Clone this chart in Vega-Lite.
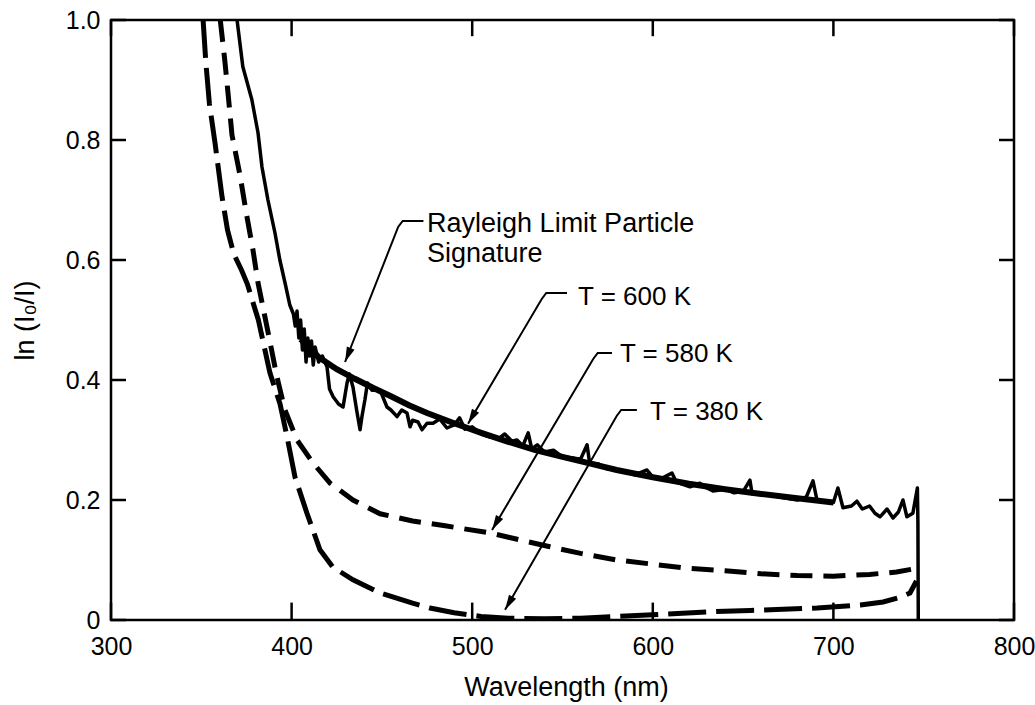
{
  "$schema": "https://vega.github.io/schema/vega-lite/v6.json",
  "width": 903,
  "height": 600,
  "autosize": "none",
  "padding": {"left": 111, "top": 20, "right": 21, "bottom": 85},
  "config": {
    "view": {"stroke": "black", "strokeWidth": 2.5},
    "font": "Liberation Sans",
    "axis": {
      "domain": false, "grid": false, "ticks": false,
      "labelFont": "Liberation Sans", "labelFontSize": 25, "labelColor": "black",
      "titleFont": "Liberation Sans", "titleFontSize": 27, "titleFontWeight": "normal", "titleColor": "black"
    }
  },
  "datasets": {
    "xticks": [{"wl": 300}, {"wl": 400}, {"wl": 500}, {"wl": 600}, {"wl": 700}, {"wl": 800}],
    "yticks": [{"v": 0}, {"v": 0.2}, {"v": 0.4}, {"v": 0.6}, {"v": 0.8}, {"v": 1.0}],
    "curves": [
      {"s": "T = 380 K", "wl": 351, "v": 1.0},
      {"s": "T = 380 K", "wl": 352.5, "v": 0.93},
      {"s": "T = 380 K", "wl": 354.5, "v": 0.86},
      {"s": "T = 380 K", "wl": 357.6, "v": 0.795},
      {"s": "T = 380 K", "wl": 361.5, "v": 0.705},
      {"s": "T = 380 K", "wl": 364.5, "v": 0.65},
      {"s": "T = 380 K", "wl": 368, "v": 0.61},
      {"s": "T = 380 K", "wl": 372.3, "v": 0.583},
      {"s": "T = 380 K", "wl": 375.5, "v": 0.56},
      {"s": "T = 380 K", "wl": 381.6, "v": 0.5},
      {"s": "T = 380 K", "wl": 388, "v": 0.412},
      {"s": "T = 380 K", "wl": 393.6, "v": 0.36},
      {"s": "T = 380 K", "wl": 397.5, "v": 0.305},
      {"s": "T = 380 K", "wl": 401.9, "v": 0.238},
      {"s": "T = 380 K", "wl": 408.5, "v": 0.178},
      {"s": "T = 380 K", "wl": 415.7, "v": 0.117},
      {"s": "T = 380 K", "wl": 422.9, "v": 0.088},
      {"s": "T = 380 K", "wl": 434, "v": 0.067},
      {"s": "T = 380 K", "wl": 449, "v": 0.045},
      {"s": "T = 380 K", "wl": 467, "v": 0.028},
      {"s": "T = 380 K", "wl": 476.6, "v": 0.02},
      {"s": "T = 380 K", "wl": 490, "v": 0.012},
      {"s": "T = 380 K", "wl": 505, "v": 0.006},
      {"s": "T = 380 K", "wl": 520, "v": 0.003},
      {"s": "T = 380 K", "wl": 540, "v": 0.002},
      {"s": "T = 380 K", "wl": 560, "v": 0.003},
      {"s": "T = 380 K", "wl": 580, "v": 0.006},
      {"s": "T = 380 K", "wl": 608, "v": 0.01},
      {"s": "T = 380 K", "wl": 635, "v": 0.014},
      {"s": "T = 380 K", "wl": 654, "v": 0.016},
      {"s": "T = 380 K", "wl": 691, "v": 0.02},
      {"s": "T = 380 K", "wl": 715, "v": 0.025},
      {"s": "T = 380 K", "wl": 727.5, "v": 0.03},
      {"s": "T = 380 K", "wl": 737, "v": 0.038},
      {"s": "T = 380 K", "wl": 742.4, "v": 0.045},
      {"s": "T = 380 K", "wl": 746, "v": 0.065},

      {"s": "T = 580 K", "wl": 360.5, "v": 1.0},
      {"s": "T = 580 K", "wl": 363, "v": 0.933},
      {"s": "T = 580 K", "wl": 364.8, "v": 0.878},
      {"s": "T = 580 K", "wl": 367, "v": 0.808},
      {"s": "T = 580 K", "wl": 371.4, "v": 0.742},
      {"s": "T = 580 K", "wl": 374.8, "v": 0.68},
      {"s": "T = 580 K", "wl": 378.6, "v": 0.617},
      {"s": "T = 580 K", "wl": 381.4, "v": 0.562},
      {"s": "T = 580 K", "wl": 386.4, "v": 0.488},
      {"s": "T = 580 K", "wl": 391.9, "v": 0.405},
      {"s": "T = 580 K", "wl": 396.3, "v": 0.35},
      {"s": "T = 580 K", "wl": 403, "v": 0.3},
      {"s": "T = 580 K", "wl": 411.8, "v": 0.262},
      {"s": "T = 580 K", "wl": 421.3, "v": 0.228},
      {"s": "T = 580 K", "wl": 434, "v": 0.2},
      {"s": "T = 580 K", "wl": 449, "v": 0.177},
      {"s": "T = 580 K", "wl": 467, "v": 0.165},
      {"s": "T = 580 K", "wl": 485, "v": 0.157},
      {"s": "T = 580 K", "wl": 510, "v": 0.145},
      {"s": "T = 580 K", "wl": 530, "v": 0.131},
      {"s": "T = 580 K", "wl": 543, "v": 0.122},
      {"s": "T = 580 K", "wl": 560, "v": 0.111},
      {"s": "T = 580 K", "wl": 580, "v": 0.1},
      {"s": "T = 580 K", "wl": 600, "v": 0.093},
      {"s": "T = 580 K", "wl": 617, "v": 0.087},
      {"s": "T = 580 K", "wl": 640, "v": 0.082},
      {"s": "T = 580 K", "wl": 660, "v": 0.077},
      {"s": "T = 580 K", "wl": 680, "v": 0.074},
      {"s": "T = 580 K", "wl": 700, "v": 0.073},
      {"s": "T = 580 K", "wl": 720, "v": 0.076},
      {"s": "T = 580 K", "wl": 735, "v": 0.08},
      {"s": "T = 580 K", "wl": 746, "v": 0.086},

      {"s": "Rayleigh", "wl": 405, "v": 0.468},
      {"s": "Rayleigh", "wl": 415, "v": 0.438},
      {"s": "Rayleigh", "wl": 425, "v": 0.418},
      {"s": "Rayleigh", "wl": 435, "v": 0.402},
      {"s": "Rayleigh", "wl": 445, "v": 0.387},
      {"s": "Rayleigh", "wl": 455, "v": 0.373},
      {"s": "Rayleigh", "wl": 465, "v": 0.358},
      {"s": "Rayleigh", "wl": 475, "v": 0.345},
      {"s": "Rayleigh", "wl": 490, "v": 0.328},
      {"s": "Rayleigh", "wl": 505, "v": 0.312},
      {"s": "Rayleigh", "wl": 520, "v": 0.297},
      {"s": "Rayleigh", "wl": 535, "v": 0.283},
      {"s": "Rayleigh", "wl": 550, "v": 0.272},
      {"s": "Rayleigh", "wl": 565, "v": 0.261},
      {"s": "Rayleigh", "wl": 580, "v": 0.25},
      {"s": "Rayleigh", "wl": 600, "v": 0.238},
      {"s": "Rayleigh", "wl": 620, "v": 0.227},
      {"s": "Rayleigh", "wl": 640, "v": 0.218},
      {"s": "Rayleigh", "wl": 660, "v": 0.21},
      {"s": "Rayleigh", "wl": 680, "v": 0.203},
      {"s": "Rayleigh", "wl": 700, "v": 0.196},

      {"s": "T = 600 K", "wl": 369.8, "v": 1.0},
      {"s": "T = 600 K", "wl": 373, "v": 0.922},
      {"s": "T = 600 K", "wl": 378, "v": 0.867},
      {"s": "T = 600 K", "wl": 381.4, "v": 0.812},
      {"s": "T = 600 K", "wl": 383.6, "v": 0.755},
      {"s": "T = 600 K", "wl": 386.9, "v": 0.7},
      {"s": "T = 600 K", "wl": 390.8, "v": 0.645},
      {"s": "T = 600 K", "wl": 393.5, "v": 0.6},
      {"s": "T = 600 K", "wl": 396.5, "v": 0.56},
      {"s": "T = 600 K", "wl": 399, "v": 0.525},
      {"s": "T = 600 K", "wl": 401, "v": 0.51},
      {"s": "T = 600 K", "wl": 402, "v": 0.49},
      {"s": "T = 600 K", "wl": 403, "v": 0.515},
      {"s": "T = 600 K", "wl": 404, "v": 0.47},
      {"s": "T = 600 K", "wl": 405, "v": 0.5},
      {"s": "T = 600 K", "wl": 406, "v": 0.45},
      {"s": "T = 600 K", "wl": 407, "v": 0.485},
      {"s": "T = 600 K", "wl": 408, "v": 0.43},
      {"s": "T = 600 K", "wl": 409, "v": 0.47},
      {"s": "T = 600 K", "wl": 410, "v": 0.44},
      {"s": "T = 600 K", "wl": 411, "v": 0.465},
      {"s": "T = 600 K", "wl": 412, "v": 0.425},
      {"s": "T = 600 K", "wl": 413, "v": 0.455},
      {"s": "T = 600 K", "wl": 415, "v": 0.43},
      {"s": "T = 600 K", "wl": 417, "v": 0.44},
      {"s": "T = 600 K", "wl": 419.6, "v": 0.422},
      {"s": "T = 600 K", "wl": 421, "v": 0.385},
      {"s": "T = 600 K", "wl": 423, "v": 0.372},
      {"s": "T = 600 K", "wl": 426, "v": 0.36},
      {"s": "T = 600 K", "wl": 428.5, "v": 0.355},
      {"s": "T = 600 K", "wl": 430.7, "v": 0.395},
      {"s": "T = 600 K", "wl": 432, "v": 0.41},
      {"s": "T = 600 K", "wl": 434, "v": 0.388},
      {"s": "T = 600 K", "wl": 436, "v": 0.35},
      {"s": "T = 600 K", "wl": 437.9, "v": 0.317},
      {"s": "T = 600 K", "wl": 439, "v": 0.34},
      {"s": "T = 600 K", "wl": 440.6, "v": 0.367},
      {"s": "T = 600 K", "wl": 442, "v": 0.395},
      {"s": "T = 600 K", "wl": 444.5, "v": 0.383},
      {"s": "T = 600 K", "wl": 449, "v": 0.383},
      {"s": "T = 600 K", "wl": 452.8, "v": 0.355},
      {"s": "T = 600 K", "wl": 455, "v": 0.35},
      {"s": "T = 600 K", "wl": 458.4, "v": 0.339},
      {"s": "T = 600 K", "wl": 461, "v": 0.35},
      {"s": "T = 600 K", "wl": 463.9, "v": 0.345},
      {"s": "T = 600 K", "wl": 465.6, "v": 0.322},
      {"s": "T = 600 K", "wl": 467, "v": 0.333},
      {"s": "T = 600 K", "wl": 470, "v": 0.33},
      {"s": "T = 600 K", "wl": 472.2, "v": 0.317},
      {"s": "T = 600 K", "wl": 475, "v": 0.328},
      {"s": "T = 600 K", "wl": 478.3, "v": 0.328},
      {"s": "T = 600 K", "wl": 482, "v": 0.335},
      {"s": "T = 600 K", "wl": 486, "v": 0.32},
      {"s": "T = 600 K", "wl": 490, "v": 0.325},
      {"s": "T = 600 K", "wl": 493, "v": 0.337},
      {"s": "T = 600 K", "wl": 496, "v": 0.318},
      {"s": "T = 600 K", "wl": 500, "v": 0.322},
      {"s": "T = 600 K", "wl": 505, "v": 0.31},
      {"s": "T = 600 K", "wl": 510, "v": 0.305},
      {"s": "T = 600 K", "wl": 515, "v": 0.303},
      {"s": "T = 600 K", "wl": 518, "v": 0.31},
      {"s": "T = 600 K", "wl": 522, "v": 0.298},
      {"s": "T = 600 K", "wl": 524.8, "v": 0.3},
      {"s": "T = 600 K", "wl": 528, "v": 0.29},
      {"s": "T = 600 K", "wl": 531, "v": 0.312},
      {"s": "T = 600 K", "wl": 533, "v": 0.285},
      {"s": "T = 600 K", "wl": 536, "v": 0.292},
      {"s": "T = 600 K", "wl": 540, "v": 0.28},
      {"s": "T = 600 K", "wl": 545, "v": 0.283},
      {"s": "T = 600 K", "wl": 550, "v": 0.272},
      {"s": "T = 600 K", "wl": 555.8, "v": 0.27},
      {"s": "T = 600 K", "wl": 560, "v": 0.268},
      {"s": "T = 600 K", "wl": 563.6, "v": 0.292},
      {"s": "T = 600 K", "wl": 565, "v": 0.262},
      {"s": "T = 600 K", "wl": 570, "v": 0.26},
      {"s": "T = 600 K", "wl": 574.6, "v": 0.252},
      {"s": "T = 600 K", "wl": 580, "v": 0.25},
      {"s": "T = 600 K", "wl": 585, "v": 0.248},
      {"s": "T = 600 K", "wl": 590, "v": 0.242},
      {"s": "T = 600 K", "wl": 596.8, "v": 0.25},
      {"s": "T = 600 K", "wl": 600, "v": 0.238},
      {"s": "T = 600 K", "wl": 605, "v": 0.236},
      {"s": "T = 600 K", "wl": 610.6, "v": 0.245},
      {"s": "T = 600 K", "wl": 613, "v": 0.23},
      {"s": "T = 600 K", "wl": 620.6, "v": 0.222},
      {"s": "T = 600 K", "wl": 626, "v": 0.228},
      {"s": "T = 600 K", "wl": 630, "v": 0.22},
      {"s": "T = 600 K", "wl": 633.3, "v": 0.215},
      {"s": "T = 600 K", "wl": 640, "v": 0.218},
      {"s": "T = 600 K", "wl": 645, "v": 0.212},
      {"s": "T = 600 K", "wl": 650, "v": 0.214},
      {"s": "T = 600 K", "wl": 653.8, "v": 0.233},
      {"s": "T = 600 K", "wl": 655, "v": 0.21},
      {"s": "T = 600 K", "wl": 663, "v": 0.21},
      {"s": "T = 600 K", "wl": 670, "v": 0.205},
      {"s": "T = 600 K", "wl": 680, "v": 0.2},
      {"s": "T = 600 K", "wl": 685, "v": 0.205},
      {"s": "T = 600 K", "wl": 688.7, "v": 0.232},
      {"s": "T = 600 K", "wl": 690.9, "v": 0.2},
      {"s": "T = 600 K", "wl": 695, "v": 0.198},
      {"s": "T = 600 K", "wl": 700, "v": 0.196},
      {"s": "T = 600 K", "wl": 702.5, "v": 0.22},
      {"s": "T = 600 K", "wl": 705.3, "v": 0.187},
      {"s": "T = 600 K", "wl": 710, "v": 0.19},
      {"s": "T = 600 K", "wl": 713, "v": 0.198},
      {"s": "T = 600 K", "wl": 716, "v": 0.185},
      {"s": "T = 600 K", "wl": 720, "v": 0.19},
      {"s": "T = 600 K", "wl": 723, "v": 0.178},
      {"s": "T = 600 K", "wl": 725.8, "v": 0.172},
      {"s": "T = 600 K", "wl": 729.7, "v": 0.185},
      {"s": "T = 600 K", "wl": 733, "v": 0.17},
      {"s": "T = 600 K", "wl": 736, "v": 0.18},
      {"s": "T = 600 K", "wl": 738.5, "v": 0.2},
      {"s": "T = 600 K", "wl": 740.7, "v": 0.172},
      {"s": "T = 600 K", "wl": 744, "v": 0.178},
      {"s": "T = 600 K", "wl": 746.5, "v": 0.22},
      {"s": "T = 600 K", "wl": 746.8, "v": 0.162},
      {"s": "T = 600 K", "wl": 747, "v": 0.0}
    ],
    "leaders": [
      {"s": "Rayleigh", "wl": 473, "v": 0.665},
      {"s": "Rayleigh", "wl": 461.5, "v": 0.665},
      {"s": "Rayleigh", "wl": 459, "v": 0.655},
      {"s": "Rayleigh", "wl": 429.6, "v": 0.43},
      {"s": "T = 600 K", "wl": 552.5, "v": 0.545},
      {"s": "T = 600 K", "wl": 541, "v": 0.545},
      {"s": "T = 600 K", "wl": 538.5, "v": 0.535},
      {"s": "T = 600 K", "wl": 497.7, "v": 0.327},
      {"s": "T = 580 K", "wl": 577.4, "v": 0.445},
      {"s": "T = 580 K", "wl": 569.5, "v": 0.445},
      {"s": "T = 580 K", "wl": 567, "v": 0.435},
      {"s": "T = 580 K", "wl": 511, "v": 0.15},
      {"s": "T = 380 K", "wl": 591.2, "v": 0.35},
      {"s": "T = 380 K", "wl": 582.5, "v": 0.35},
      {"s": "T = 380 K", "wl": 580, "v": 0.34},
      {"s": "T = 380 K", "wl": 518.2, "v": 0.017}
    ],
    "tips": [
      {"s": "Rayleigh", "wl": 429.6, "v": 0.43},
      {"s": "T = 600 K", "wl": 497.7, "v": 0.327},
      {"s": "T = 580 K", "wl": 511, "v": 0.15},
      {"s": "T = 380 K", "wl": 518.2, "v": 0.017}
    ],
    "labels": [
      {"t": "Rayleigh Limit Particle\nSignature", "wl": 475, "v": 0.647, "k": "big"},
      {"t": "T = 600 K", "wl": 558.6, "v": 0.525, "k": "t"},
      {"t": "T = 580 K", "wl": 581.8, "v": 0.43, "k": "t"},
      {"t": "T = 380 K", "wl": 598.5, "v": 0.333, "k": "t"}
    ]
  },
  "layer": [
    {
      "data": {"name": "curves"},
      "transform": [{"filter": "datum.s == 'T = 380 K'"}],
      "mark": {"type": "line", "color": "black", "strokeWidth": 5, "strokeDash": [38, 10], "clip": true},
      "encoding": {
        "x": {"field": "wl", "type": "quantitative", "scale": {"domain": [300, 800], "nice": false, "zero": false},
          "axis": {"orient": "bottom", "values": [300, 400, 500, 600, 700, 800], "labelPadding": 34, "labelBaseline": "alphabetic", "labelFlush": false,
            "title": "Wavelength (nm)", "titleX": 455, "titleY": 75, "titleBaseline": "alphabetic", "titleAlign": "center"}},
        "y": {"field": "v", "type": "quantitative", "scale": {"domain": [0, 1], "nice": false, "zero": false},
          "axis": {"orient": "left", "values": [0, 0.2, 0.4, 0.6, 0.8, 1], "labelPadding": 11, "labelFlush": false,
            "labelExpr": "datum.value == 0 ? '0' : format(datum.value, '.1f')",
            "title": "ln (I₀/I)", "titleX": -86, "titleY": 300, "titleAngle": -90, "titleBaseline": "middle", "titleAlign": "center"}}
      }
    },
    {
      "data": {"name": "curves"},
      "transform": [{"filter": "datum.s == 'T = 580 K'"}],
      "mark": {"type": "line", "color": "black", "strokeWidth": 5, "strokeDash": [22, 11], "clip": true},
      "encoding": {
        "x": {"field": "wl", "type": "quantitative"},
        "y": {"field": "v", "type": "quantitative"}
      }
    },
    {
      "data": {"name": "curves"},
      "transform": [{"filter": "datum.s == 'Rayleigh'"}],
      "mark": {"type": "line", "color": "black", "strokeWidth": 6, "clip": true},
      "encoding": {
        "x": {"field": "wl", "type": "quantitative"},
        "y": {"field": "v", "type": "quantitative"}
      }
    },
    {
      "data": {"name": "curves"},
      "transform": [{"filter": "datum.s == 'T = 600 K'"}],
      "mark": {"type": "line", "color": "black", "strokeWidth": 3.5, "strokeJoin": "round", "clip": true},
      "encoding": {
        "x": {"field": "wl", "type": "quantitative"},
        "y": {"field": "v", "type": "quantitative"}
      }
    },
    {
      "data": {"name": "xticks"},
      "mark": {"type": "rule", "color": "black", "strokeWidth": 2.5},
      "encoding": {
        "x": {"field": "wl", "type": "quantitative"},
        "y": {"datum": 0},
        "y2": {"datum": 0.029}
      }
    },
    {
      "data": {"name": "xticks"},
      "mark": {"type": "rule", "color": "black", "strokeWidth": 2.5},
      "encoding": {
        "x": {"field": "wl", "type": "quantitative"},
        "y": {"datum": 1},
        "y2": {"datum": 0.973}
      }
    },
    {
      "data": {"name": "yticks"},
      "mark": {"type": "rule", "color": "black", "strokeWidth": 2.5},
      "encoding": {
        "y": {"field": "v", "type": "quantitative"},
        "x": {"datum": 300},
        "x2": {"datum": 308.3}
      }
    },
    {
      "data": {"name": "yticks"},
      "mark": {"type": "rule", "color": "black", "strokeWidth": 2.5},
      "encoding": {
        "y": {"field": "v", "type": "quantitative"},
        "x": {"datum": 800},
        "x2": {"datum": 791.7}
      }
    },
    {
      "data": {"name": "leaders"},
      "mark": {"type": "line", "color": "black", "strokeWidth": 2},
      "encoding": {
        "x": {"field": "wl", "type": "quantitative"},
        "y": {"field": "v", "type": "quantitative"},
        "detail": {"field": "s"}
      }
    },
    {
      "data": {"name": "tips"},
      "transform": [{"filter": "datum.s == 'Rayleigh'"}],
      "mark": {"type": "point", "filled": true, "color": "black", "opacity": 1, "size": 225, "shape": "M0,0 L-0.55,-2 L0.55,-2 Z", "angle": 22},
      "encoding": {
        "x": {"field": "wl", "type": "quantitative"},
        "y": {"field": "v", "type": "quantitative"}
      }
    },
    {
      "data": {"name": "tips"},
      "transform": [{"filter": "datum.s != 'Rayleigh'"}],
      "mark": {"type": "point", "filled": true, "color": "black", "opacity": 1, "size": 225, "shape": "M0,0 L-0.55,-2 L0.55,-2 Z", "angle": 30},
      "encoding": {
        "x": {"field": "wl", "type": "quantitative"},
        "y": {"field": "v", "type": "quantitative"}
      }
    },
    {
      "data": {"name": "labels"},
      "transform": [{"filter": "datum.k == 'big'"}],
      "mark": {"type": "text", "align": "left", "baseline": "alphabetic", "fontSize": 27, "font": "Liberation Sans", "color": "black", "lineBreak": "\n", "lineHeight": 30},
      "encoding": {
        "x": {"field": "wl", "type": "quantitative"},
        "y": {"field": "v", "type": "quantitative"},
        "text": {"field": "t"}
      }
    },
    {
      "data": {"name": "labels"},
      "transform": [{"filter": "datum.k == 't'"}],
      "mark": {"type": "text", "align": "left", "baseline": "alphabetic", "fontSize": 26, "font": "Liberation Sans", "color": "black"},
      "encoding": {
        "x": {"field": "wl", "type": "quantitative"},
        "y": {"field": "v", "type": "quantitative"},
        "text": {"field": "t"}
      }
    }
  ]
}
